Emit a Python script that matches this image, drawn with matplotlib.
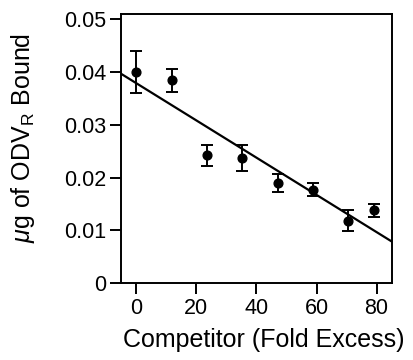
import matplotlib
matplotlib.use("Agg")
import matplotlib.pyplot as plt
import numpy as np

# Data
competitor = [0, 11.8, 23.5, 35.3, 47.1, 58.8, 70.4, 79.2]
bound = [0.0400, 0.0384, 0.0242, 0.0237, 0.0189, 0.0177, 0.0118, 0.0138]
bound_err = [0.0040, 0.0021, 0.0020, 0.0025, 0.0017, 0.0012, 0.0020, 0.0012]
fit_slope = -0.000353
fit_intercept = 0.03788
x_ticks = [0, 20, 40, 60, 80]
y_ticks = [0, 0.01, 0.02, 0.03, 0.04, 0.05]
y_tick_labels = ["0", "0.01", "0.02", "0.03", "0.04", "0.05"]

plt.rcParams['font.family'] = ['Liberation Sans', 'DejaVu Sans']
plt.rcParams['mathtext.fontset'] = 'custom'
plt.rcParams['mathtext.rm'] = 'Liberation Sans'
plt.rcParams['mathtext.it'] = 'Liberation Sans:italic'

fig = plt.figure(figsize=(4.13, 3.6), dpi=100)
ax = fig.add_axes([0.293, 0.214, 0.656, 0.747])

xlim = (-5.1, 85.1)
ax.set_xlim(*xlim)
ax.set_ylim(0, 0.051)

fx = np.array(xlim)
ax.plot(fx, fit_intercept + fit_slope * fx, color='black', lw=1.6, zorder=2)
ax.errorbar(competitor, bound, yerr=bound_err, fmt='o', color='black',
            ms=6.3, capsize=4.3, capthick=1.4, elinewidth=1.4, zorder=3)

ax.set_xticks(x_ticks)
ax.set_yticks(y_ticks)
ax.set_yticklabels(y_tick_labels)
ax.tick_params(direction='out', length=8, width=1.4, labelsize=15.5, pad=2.5,
               color='black')
for s in ax.spines.values():
    s.set_linewidth(1.4)

fig.text(0.638, 0.056, "Competitor (Fold Excess)", fontsize=18,
         ha='center', va='center')
fig.text(0.056, 0.617, r"$\mu$g of ODV$_\mathregular{R}$ Bound", fontsize=18,
         rotation=90, ha='center', va='center')

fig.savefig("out.png", dpi=100)
